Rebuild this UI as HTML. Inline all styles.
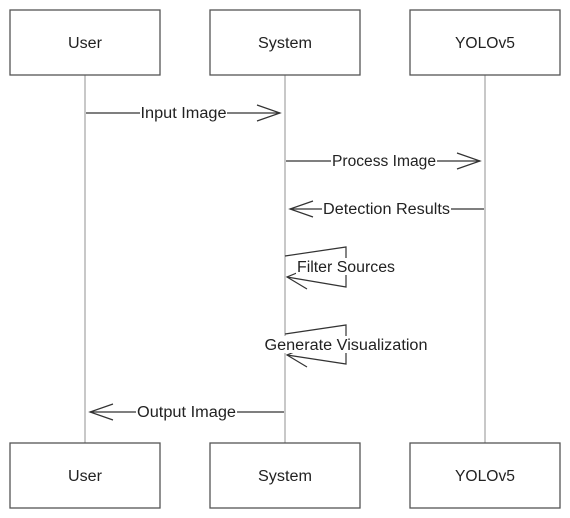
<!DOCTYPE html>
<html><head><style>body{margin:0;background:#fff}svg{display:block}</style></head><body>
<svg width="570" height="518" xmlns="http://www.w3.org/2000/svg" font-family="Liberation Sans, sans-serif" font-size="15.5" fill="#222">
<g stroke="#c8c8c8" stroke-width="2">
<line x1="85" y1="75" x2="85" y2="443"/><line x1="285" y1="75" x2="285" y2="443"/><line x1="485" y1="75" x2="485" y2="443"/>
</g>
<g fill="#fff" stroke="#555" stroke-width="1.3">
<rect x="10" y="10" width="150" height="65"/><rect x="210" y="10" width="150" height="65"/><rect x="410" y="10" width="150" height="65"/>
<rect x="10" y="443" width="150" height="65"/><rect x="210" y="443" width="150" height="65"/><rect x="410" y="443" width="150" height="65"/>
</g>
<g text-anchor="middle">
<text x="85" y="48" textLength="34" lengthAdjust="spacingAndGlyphs">User</text><text x="285" y="48" textLength="54" lengthAdjust="spacingAndGlyphs">System</text><text x="485" y="48" textLength="60" lengthAdjust="spacingAndGlyphs">YOLOv5</text>
<text x="85" y="481" textLength="34" lengthAdjust="spacingAndGlyphs">User</text><text x="285" y="481" textLength="54" lengthAdjust="spacingAndGlyphs">System</text><text x="485" y="481" textLength="60" lengthAdjust="spacingAndGlyphs">YOLOv5</text>
</g>
<g stroke="#333" stroke-width="1.2" fill="none">
<line x1="86" y1="113" x2="280" y2="113"/><polyline points="257,105 280,113 257,121"/>
<line x1="286" y1="161" x2="480" y2="161"/><polyline points="457,153 480,161 457,169"/>
<line x1="484" y1="209" x2="290" y2="209"/><polyline points="313,201 290,209 313,217"/>
<polyline points="285,256 346,247 346,287 287,277"/><polyline points="309,268 287,277 307,289"/>
<polyline points="285,334 346,325 346,364 287,355"/><polyline points="309,346 287,355 307,367"/>
<line x1="284" y1="412" x2="90" y2="412"/><polyline points="113,404 90,412 113,420"/>
</g>
<g text-anchor="middle">
<rect x="140" y="103" width="87" height="19" fill="#fff"/><text x="183.5" y="118" textLength="86" lengthAdjust="spacingAndGlyphs">Input Image</text>
<rect x="331" y="151" width="106" height="19" fill="#fff"/><text x="384" y="166" textLength="104" lengthAdjust="spacingAndGlyphs">Process Image</text>
<rect x="322" y="199" width="129" height="19" fill="#fff"/><text x="386.5" y="214" textLength="127" lengthAdjust="spacingAndGlyphs">Detection Results</text>
<rect x="296" y="258" width="100" height="17" fill="#fff"/><text x="346" y="272" textLength="98" lengthAdjust="spacingAndGlyphs">Filter Sources</text>
<rect x="264" y="336" width="164" height="17" fill="#fff"/><text x="346" y="350" textLength="163" lengthAdjust="spacingAndGlyphs">Generate Visualization</text>
<rect x="136" y="402" width="101" height="19" fill="#fff"/><text x="186.5" y="417" textLength="99" lengthAdjust="spacingAndGlyphs">Output Image</text>
</g>
</svg>
</body></html>
